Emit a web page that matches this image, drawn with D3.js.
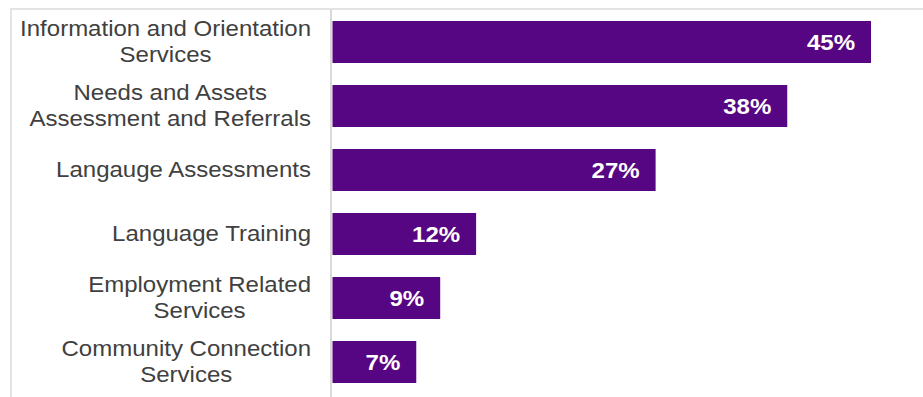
<!DOCTYPE html>
<html>
<head>
<meta charset="utf-8">
<script src="https://cdn.jsdelivr.net/npm/d3@7"></script>
<style>
  html, body { margin: 0; padding: 0; background: #fff; }
  svg { display: block; }
  text { font-family: "Liberation Sans", Arial, sans-serif; }
</style>
</head>
<body>
<svg id="chart" width="923" height="397"></svg>
<script>
// Service categories, each split into the lines it is printed on
const categories = [
  ["Information and Orientation", "Services"],
  ["Needs and Assets", "Assessment and Referrals"],
  ["Langauge Assessments"],
  ["Language Training"],
  ["Employment Related", "Services"],
  ["Community Connection", "Services"]
];
// Share of respondents using each service (%)
const values = [45, 38, 27, 12, 9, 7];
const valueLabels = values.map(v => v + "%");

const W = 923, H = 397;
const barColor = "#560682";
const textColor = "#404040";
const stretch = 1.092;   // slightly wide glyphs

const svg = d3.select("#chart");

const ids = d3.range(categories.length);
const x = d3.scaleLinear().domain([0, 45]).range([332.5, 871]);
const y = d3.scaleBand().domain(ids).range([10, 394])
  .paddingInner(0.34375).paddingOuter(0.171875);

// outer frame of the plot area
svg.append("rect")
  .attr("x", 11).attr("y", 9)
  .attr("width", W + 10).attr("height", H + 10)
  .attr("fill", "none")
  .attr("stroke", "#e3e3e3").attr("stroke-width", 2);

// category axis line
svg.append("line")
  .attr("x1", 331).attr("x2", 331)
  .attr("y1", 10).attr("y2", H)
  .attr("stroke", "#d9d9d9").attr("stroke-width", 2);

// bars
svg.append("g").selectAll("rect")
  .data(ids)
  .join("rect")
  .attr("x", x(0))
  .attr("y", i => y(i))
  .attr("width", i => x(values[i]) - x(0))
  .attr("height", y.bandwidth())
  .attr("fill", barColor);

// value labels inside the bar ends
svg.append("g").selectAll("text")
  .data(ids)
  .join("text")
  .attr("transform", i => `translate(${x(values[i]) - 16},${y(i) + y.bandwidth() / 2 + 8}) scale(${stretch},1)`)
  .attr("text-anchor", "end")
  .attr("font-size", 22)
  .attr("font-weight", "bold")
  .attr("fill", "#fff")
  .text(i => valueLabels[i]);

// category labels: lines centred on each other, block right-aligned to the axis
const labelG = svg.append("g")
  .attr("transform", `translate(311,0) scale(${stretch},1)`);
const lineGap = 26;
ids.forEach(i => {
  const lines = categories[i];
  const cy = y(i) + y.bandwidth() / 2;
  const g = labelG.append("g");
  const texts = lines.map((ln, k) => g.append("text")
    .attr("y", cy + 7.5 + (k - (lines.length - 1) / 2) * lineGap)
    .attr("font-size", 22)
    .attr("fill", textColor)
    .attr("text-anchor", "middle")
    .text(ln));
  const maxW = d3.max(texts, t => t.node().getComputedTextLength());
  texts.forEach(t => t.attr("x", -maxW / 2));
});
</script>
</body>
</html>
